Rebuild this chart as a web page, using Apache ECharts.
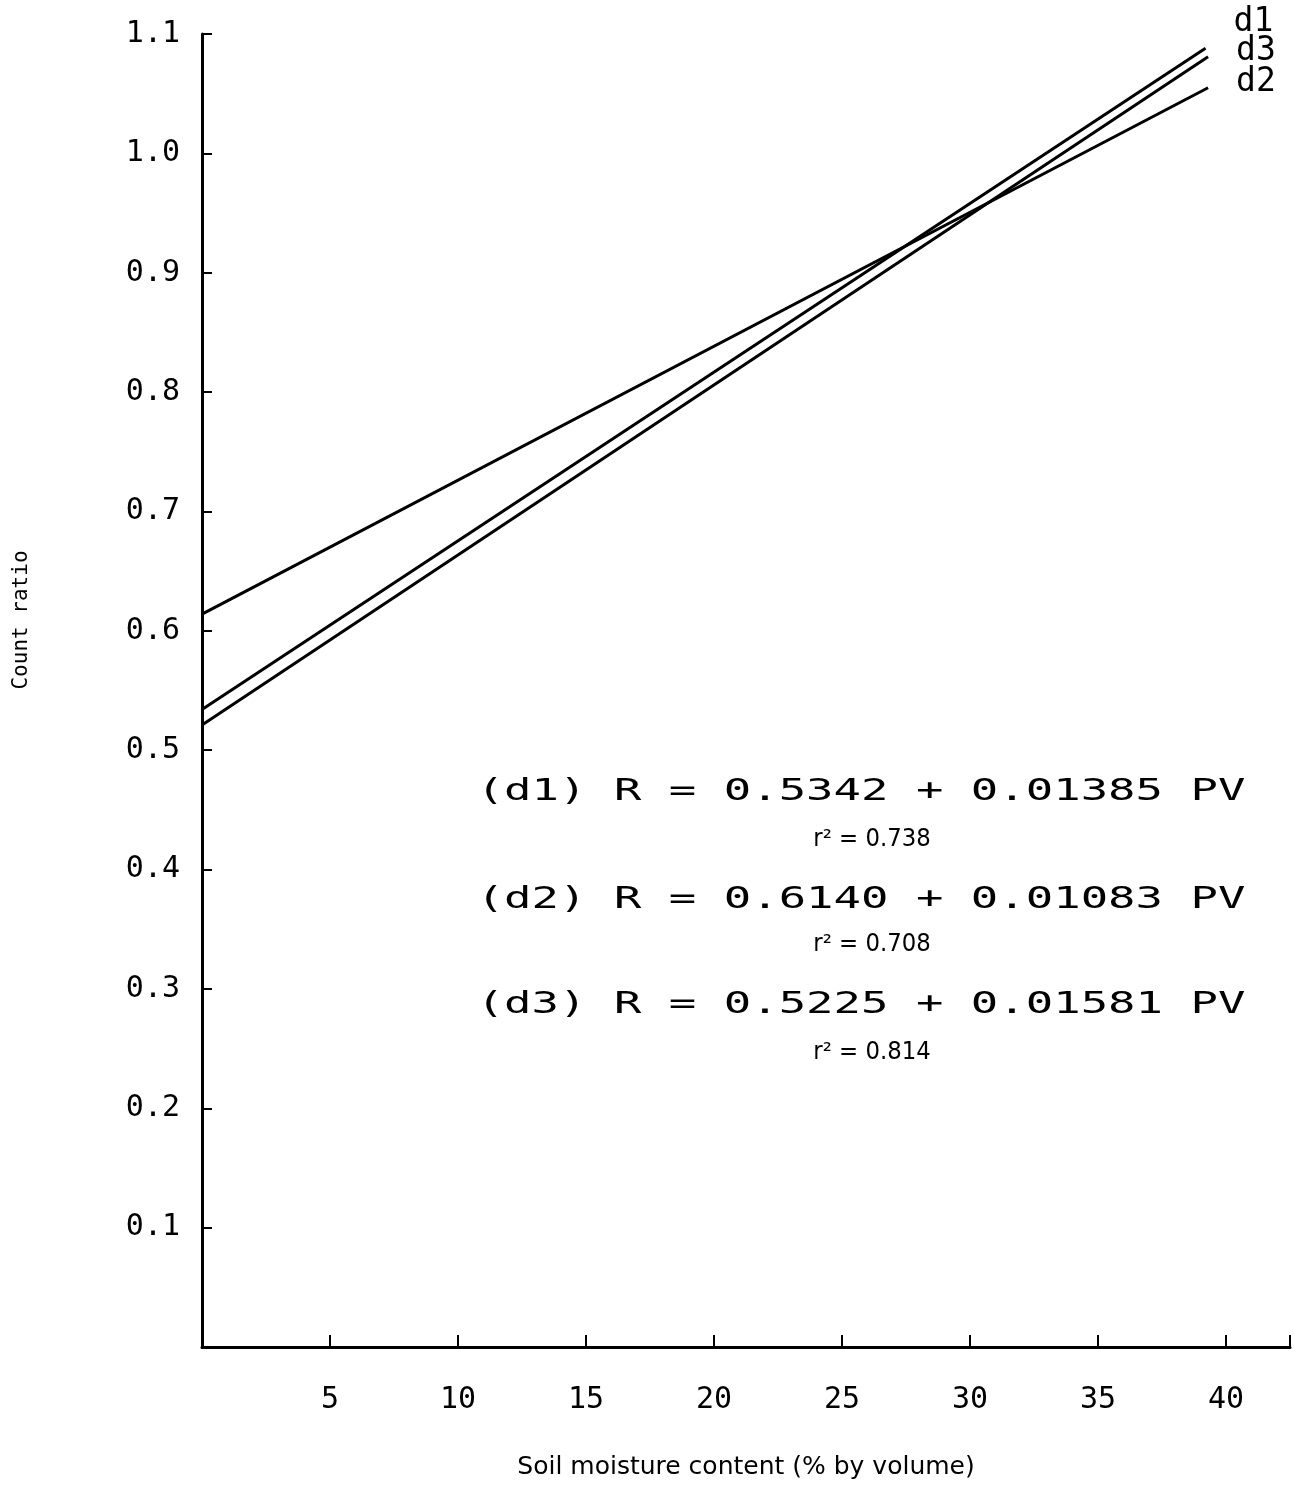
<!DOCTYPE html>
<html>
<head>
<meta charset="utf-8">
<script src="https://cdn.jsdelivr.net/npm/echarts@6/dist/echarts.min.js"></script>
<style>
  html, body { margin: 0; padding: 0; background: #fff; }
  #main { width: 1294px; height: 1489px; }
</style>
</head>
<body>
<div id="main"></div>
<script>
// tick values
var xTicks = [5, 10, 15, 20, 25, 30, 35, 40];
var yTicks = [0.1, 0.2, 0.3, 0.4, 0.5, 0.6, 0.7, 0.8, 0.9, 1.0, 1.1];

// regression lines, end points
var d1Line = [[0, 0.534], [39.2, 1.088]];
var d2Line = [[0, 0.614], [39.3, 1.055]];
var d3Line = [[0, 0.521], [39.3, 1.081]];

// fitted equations shown on the plot
var equations = ['(d1) R = 0.5342 + 0.01385 PV', '(d2) R = 0.6140 + 0.01083 PV', '(d3) R = 0.5225 + 0.01581 PV'];
var rSquared = ['r² = 0.738', 'r² = 0.708', 'r² = 0.814'];

var mono = 'DejaVu Sans Mono';
var myChart = echarts.init(document.getElementById('main'));

function lineSeries(name, data, off) {
    return {
        name: name,
        type: 'line',
        data: data,
        symbol: 'none',
        lineStyle: { color: '#000', width: 3 },
        endLabel: {
            show: true,
            formatter: '{a}',
            fontFamily: mono,
            fontSize: 33,
            color: '#000',
            offset: off
        }
    };
}

var eqY = [792, 900, 1005];
var rY = [840, 945, 1053];
var graphics = [{
    type: 'text',
    x: 22, y: 620,
    rotation: Math.PI / 2,
    style: { text: 'Count ratio', fontFamily: mono, fontSize: 21, fill: '#000', align: 'center', verticalAlign: 'middle' }
}];
equations.forEach(function (t, i) {
    graphics.push({
        type: 'text', x: 861, y: eqY[i], scaleX: 1.52,
        style: { text: t, fontFamily: mono, fontSize: 30, fill: '#000', align: 'center', verticalAlign: 'middle' }
    });
    graphics.push({
        type: 'text', x: 872, y: rY[i], scaleX: 0.95,
        style: { text: rSquared[i], fontFamily: 'DejaVu Sans', fontSize: 24, fill: '#000', align: 'center', verticalAlign: 'middle' }
    });
});

myChart.setOption({
    animation: false,
    backgroundColor: '#fff',
    grid: { left: 202, right: 4, top: 34, bottom: 142, outerBoundsMode: 'none' },
    xAxis: {
        type: 'value',
        min: 0,
        max: 42.5,
        interval: 5,
        name: 'Soil moisture content (% by volume)',
        nameLocation: 'middle',
        nameGap: 108,
        nameTextStyle: { fontFamily: 'DejaVu Sans', fontSize: 25, color: '#000' },
        axisLine: { lineStyle: { color: '#000', width: 3 } },
        axisTick: { inside: true, length: 12, customValues: xTicks.concat([42.5]), lineStyle: { color: '#000', width: 2 } },
        axisLabel: { customValues: xTicks, margin: 38, fontFamily: mono, fontSize: 30, color: '#000' },
        splitLine: { show: false }
    },
    yAxis: {
        type: 'value',
        min: 0,
        max: 1.1,
        interval: 0.1,
        axisLine: { show: true, lineStyle: { color: '#000', width: 3 } },
        axisTick: { show: true, inside: true, length: 10, customValues: yTicks, lineStyle: { color: '#000', width: 2 } },
        axisLabel: {
            customValues: yTicks,
            margin: 22,
            fontFamily: mono,
            fontSize: 30,
            color: '#000',
            formatter: function (v) { return v.toFixed(1); }
        },
        splitLine: { show: false }
    },
    series: [
        lineSeries('d1', d1Line, [20, -26]),
        lineSeries('d2', d2Line, [20, -5]),
        lineSeries('d3', d3Line, [20, -5])
    ],
    graphic: graphics
});
</script>
</body>
</html>
